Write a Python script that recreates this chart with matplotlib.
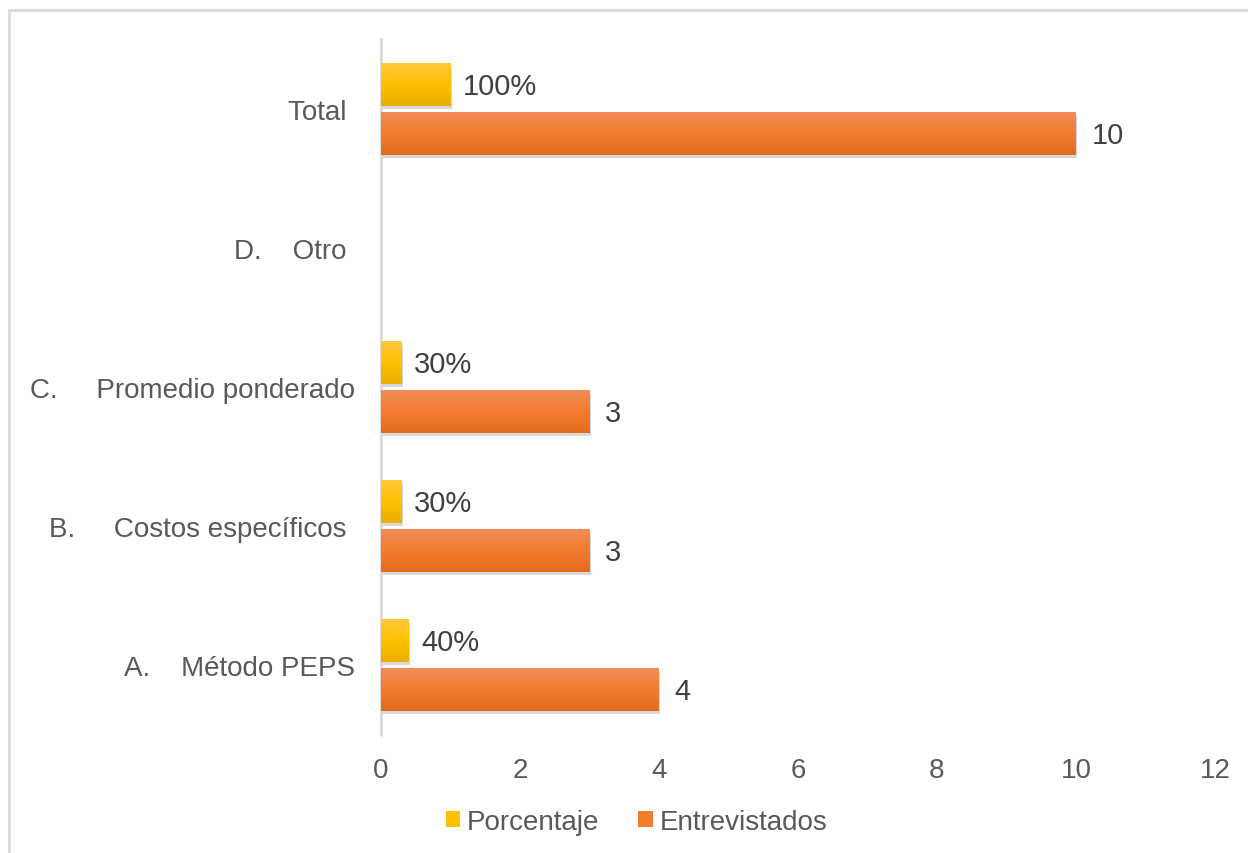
import numpy as np
import matplotlib
matplotlib.use("Agg")
import matplotlib.pyplot as plt
import matplotlib.patheffects as pe
from matplotlib.colors import LinearSegmentedColormap
from matplotlib.patches import Patch, Rectangle

plt.rcParams['font.family'] = ['Liberation Sans', 'DejaVu Sans']

# Data (bottom to top)
categories = ["A.    Método PEPS", "B.     Costos específicos ",
              "C.     Promedio ponderado", "D.    Otro ", "Total "]
porcentaje = [0.4, 0.3, 0.3, 0, 1.0]
entrevistados = [4, 3, 3, 0, 10]
porc_labels = ["40%", "30%", "30%", "", "100%"]
entr_labels = ["4", "3", "3", "", "10"]

# Gradients (top -> bottom)
yellow_cmap = LinearSegmentedColormap.from_list("y", ["#FFC83C", "#FFC000", "#E9AE00"])
orange_cmap = LinearSegmentedColormap.from_list("o", ["#F18D57", "#F27C2E", "#E36A1C"])

fig = plt.figure(figsize=(12.48, 8.54), dpi=100)
fig.patches.append(Rectangle((9/1248, -0.01), 1.0, 1 - 11/854 + 0.01, transform=fig.transFigure,
                             fill=False, edgecolor="#D9D9D9", linewidth=2))
ax = fig.add_axes([381/1248, 1 - 735.6/854, (1215 - 381)/1248, (735.6 - 40.4)/854])

y = np.arange(len(categories))
h = 0.305
off = 0.176
grad = np.linspace(0, 1, 100).reshape(-1, 1)

shadow = [pe.SimplePatchShadow(offset=(1.0, -2.5), shadow_rgbFace="#7f7f7f", alpha=0.3), pe.Normal()]

for vals, pos, cmap in [(porcentaje, y + off, yellow_cmap), (entrevistados, y - off, orange_cmap)]:
    bars = ax.barh(pos, vals, height=h, facecolor="none", edgecolor="none", zorder=2)
    for b, v in zip(bars, vals):
        if v == 0:
            continue
        b.set_path_effects(shadow)
        x0, y0 = b.get_x(), b.get_y()
        im = ax.imshow(grad, extent=[x0, x0 + b.get_width(), y0, y0 + b.get_height()],
                       aspect="auto", cmap=cmap, origin="upper", zorder=3)
        im.set_clip_path(b)

for yy, v, lab in zip(y + off, porcentaje, porc_labels):
    if lab:
        ax.text(v + 0.18, yy - 0.01, lab, va="center", ha="left", fontsize=21, color="#404040", zorder=4)
for yy, v, lab in zip(y - off, entrevistados, entr_labels):
    if lab:
        ax.text(v + 0.22, yy - 0.01, lab, va="center", ha="left", fontsize=21, color="#404040", zorder=4)

ax.set_xlim(0, 12)
ax.set_ylim(-0.5, len(categories) - 0.5)
ax.set_xticks(range(0, 13, 2))
ax.set_yticks(y)
ax.set_yticklabels(categories)
ax.tick_params(axis="both", length=0, labelsize=20, labelcolor="#595959")
ax.tick_params(axis="x", pad=16)
ax.tick_params(axis="y", pad=19)
for s in ["top", "right", "bottom"]:
    ax.spines[s].set_visible(False)
ax.spines["left"].set_color("#D9D9D9")
ax.spines["left"].set_linewidth(2)

handles = [Patch(facecolor="#FFC000", label="Porcentaje"),
           Patch(facecolor="#F27C2E", label="Entrevistados")]
fig.legend(handles=handles, loc="center", bbox_to_anchor=(0.51, 1 - 823/854), ncol=2,
           frameon=False, fontsize=20, labelcolor="#595959", handlelength=0.52,
           handleheight=0.52, handletextpad=0.25, columnspacing=1.4)

fig.savefig("out.png", dpi=100)
